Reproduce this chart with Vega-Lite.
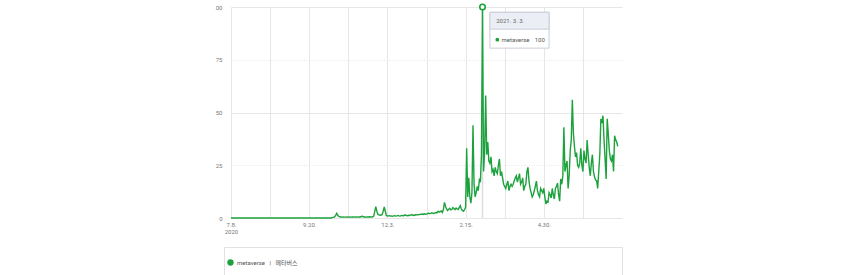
{
  "$schema": "https://vega.github.io/schema/vega-lite/v6.json",
  "autosize": {"type": "pad"},
  "padding": {"left": 215, "top": 1, "right": 0, "bottom": 0},
  "background": "white",
  "config": {
    "font": "Roboto, 'Noto Sans CJK KR', sans-serif",
    "view": {"stroke": null}
  },
  "spacing": 12,
  "datasets": {
    "tip": [{"k": "tip"}],
    "trend": [
      {"d":"2020-07-08","v":0},{"d":"2020-07-09","v":0},{"d":"2020-07-10","v":0},{"d":"2020-07-11","v":0},{"d":"2020-07-12","v":0},{"d":"2020-07-13","v":0},{"d":"2020-07-14","v":0},{"d":"2020-07-15","v":0},{"d":"2020-07-16","v":0},{"d":"2020-07-17","v":0},{"d":"2020-07-18","v":0},{"d":"2020-07-19","v":0},{"d":"2020-07-20","v":0},{"d":"2020-07-21","v":0},{"d":"2020-07-22","v":0},{"d":"2020-07-23","v":0},{"d":"2020-07-24","v":0},{"d":"2020-07-25","v":0},{"d":"2020-07-26","v":0},{"d":"2020-07-27","v":0},{"d":"2020-07-28","v":0},{"d":"2020-07-29","v":0},{"d":"2020-07-30","v":0},{"d":"2020-07-31","v":0},
      {"d":"2020-08-01","v":0},{"d":"2020-08-02","v":0},{"d":"2020-08-03","v":0},{"d":"2020-08-04","v":0},{"d":"2020-08-05","v":0},{"d":"2020-08-06","v":0},{"d":"2020-08-07","v":0},{"d":"2020-08-08","v":0},{"d":"2020-08-09","v":0},{"d":"2020-08-10","v":0},{"d":"2020-08-11","v":0},{"d":"2020-08-12","v":0},{"d":"2020-08-13","v":0},{"d":"2020-08-14","v":0},{"d":"2020-08-15","v":0},{"d":"2020-08-16","v":0},{"d":"2020-08-17","v":0},{"d":"2020-08-18","v":0},{"d":"2020-08-19","v":0},{"d":"2020-08-20","v":0},{"d":"2020-08-21","v":0},{"d":"2020-08-22","v":0},{"d":"2020-08-23","v":0},{"d":"2020-08-24","v":0},{"d":"2020-08-25","v":0},{"d":"2020-08-26","v":0},{"d":"2020-08-27","v":0},{"d":"2020-08-28","v":0},{"d":"2020-08-29","v":0},{"d":"2020-08-30","v":0},{"d":"2020-08-31","v":0},
      {"d":"2020-09-01","v":0},{"d":"2020-09-02","v":0},{"d":"2020-09-03","v":0},{"d":"2020-09-04","v":0},{"d":"2020-09-05","v":0},{"d":"2020-09-06","v":0},{"d":"2020-09-07","v":0},{"d":"2020-09-08","v":0},{"d":"2020-09-09","v":0},{"d":"2020-09-10","v":0},{"d":"2020-09-11","v":0},{"d":"2020-09-12","v":0},{"d":"2020-09-13","v":0},{"d":"2020-09-14","v":0},{"d":"2020-09-15","v":0},{"d":"2020-09-16","v":0},{"d":"2020-09-17","v":0},{"d":"2020-09-18","v":0},{"d":"2020-09-19","v":0},{"d":"2020-09-20","v":0},{"d":"2020-09-21","v":0},{"d":"2020-09-22","v":0},{"d":"2020-09-23","v":0},{"d":"2020-09-24","v":0},{"d":"2020-09-25","v":0},{"d":"2020-09-26","v":0},{"d":"2020-09-27","v":0},{"d":"2020-09-28","v":0},{"d":"2020-09-29","v":0},{"d":"2020-09-30","v":0},
      {"d":"2020-10-01","v":0},{"d":"2020-10-02","v":0},{"d":"2020-10-03","v":0},{"d":"2020-10-04","v":0},{"d":"2020-10-05","v":0},{"d":"2020-10-06","v":0},{"d":"2020-10-07","v":0},{"d":"2020-10-08","v":0},{"d":"2020-10-09","v":0},{"d":"2020-10-10","v":0},{"d":"2020-10-11","v":0},{"d":"2020-10-12","v":0.3},{"d":"2020-10-13","v":0.3},{"d":"2020-10-14","v":0.5},{"d":"2020-10-15","v":1.2},{"d":"2020-10-16","v":2.2},{"d":"2020-10-17","v":1.3},{"d":"2020-10-18","v":0.8},{"d":"2020-10-19","v":0.6},{"d":"2020-10-20","v":0.5},{"d":"2020-10-21","v":0.4},{"d":"2020-10-22","v":0.5},{"d":"2020-10-23","v":0.4},{"d":"2020-10-24","v":0.4},{"d":"2020-10-25","v":0.5},{"d":"2020-10-26","v":0.4},{"d":"2020-10-27","v":0.5},{"d":"2020-10-28","v":0.4},{"d":"2020-10-29","v":0.5},{"d":"2020-10-30","v":0.4},{"d":"2020-10-31","v":0.5},
      {"d":"2020-11-01","v":0.5},{"d":"2020-11-02","v":0.4},{"d":"2020-11-03","v":0.5},{"d":"2020-11-04","v":0.5},{"d":"2020-11-05","v":0.4},{"d":"2020-11-06","v":0.5},{"d":"2020-11-07","v":0.5},{"d":"2020-11-08","v":0.6},{"d":"2020-11-09","v":0.9},{"d":"2020-11-10","v":0.6},{"d":"2020-11-11","v":0.5},{"d":"2020-11-12","v":0.5},{"d":"2020-11-13","v":0.4},{"d":"2020-11-14","v":0.5},{"d":"2020-11-15","v":0.5},{"d":"2020-11-16","v":0.6},{"d":"2020-11-17","v":0.5},{"d":"2020-11-18","v":0.5},{"d":"2020-11-19","v":0.6},{"d":"2020-11-20","v":0.8},{"d":"2020-11-21","v":3},{"d":"2020-11-22","v":5.4},{"d":"2020-11-23","v":3.2},{"d":"2020-11-24","v":1.8},{"d":"2020-11-25","v":1.5},{"d":"2020-11-26","v":1.3},{"d":"2020-11-27","v":1.4},{"d":"2020-11-28","v":1.6},{"d":"2020-11-29","v":3.2},{"d":"2020-11-30","v":5.2},
      {"d":"2020-12-01","v":3.2},{"d":"2020-12-02","v":1.2},{"d":"2020-12-03","v":0.9},{"d":"2020-12-04","v":1.0},{"d":"2020-12-05","v":1.1},{"d":"2020-12-06","v":0.9},{"d":"2020-12-07","v":1.0},{"d":"2020-12-08","v":0.8},{"d":"2020-12-09","v":1.0},{"d":"2020-12-10","v":1.1},{"d":"2020-12-11","v":0.9},{"d":"2020-12-12","v":1.0},{"d":"2020-12-13","v":1.2},{"d":"2020-12-14","v":1.0},{"d":"2020-12-15","v":0.9},{"d":"2020-12-16","v":1.1},{"d":"2020-12-17","v":1.2},{"d":"2020-12-18","v":1.0},{"d":"2020-12-19","v":1.3},{"d":"2020-12-20","v":1.4},{"d":"2020-12-21","v":1.2},{"d":"2020-12-22","v":1.1},{"d":"2020-12-23","v":1.3},{"d":"2020-12-24","v":1.2},{"d":"2020-12-25","v":1.4},{"d":"2020-12-26","v":1.6},{"d":"2020-12-27","v":1.3},{"d":"2020-12-28","v":1.2},{"d":"2020-12-29","v":1.5},{"d":"2020-12-30","v":1.4},{"d":"2020-12-31","v":1.6},
      {"d":"2021-01-01","v":1.5},{"d":"2021-01-02","v":1.7},{"d":"2021-01-03","v":1.6},{"d":"2021-01-04","v":1.8},{"d":"2021-01-05","v":1.9},{"d":"2021-01-06","v":1.7},{"d":"2021-01-07","v":2.0},{"d":"2021-01-08","v":1.8},{"d":"2021-01-09","v":1.9},{"d":"2021-01-10","v":2.1},{"d":"2021-01-11","v":2.3},{"d":"2021-01-12","v":2.0},{"d":"2021-01-13","v":2.2},{"d":"2021-01-14","v":2.5},{"d":"2021-01-15","v":2.3},{"d":"2021-01-16","v":2.1},{"d":"2021-01-17","v":2.4},{"d":"2021-01-18","v":2.6},{"d":"2021-01-19","v":2.5},{"d":"2021-01-20","v":3.2},{"d":"2021-01-21","v":2.8},{"d":"2021-01-22","v":3.0},{"d":"2021-01-23","v":3.3},{"d":"2021-01-24","v":2.6},{"d":"2021-01-25","v":4.0},{"d":"2021-01-26","v":7.4},{"d":"2021-01-27","v":5.5},{"d":"2021-01-28","v":4.3},{"d":"2021-01-29","v":3.5},{"d":"2021-01-30","v":4.2},{"d":"2021-01-31","v":4.6},
      {"d":"2021-02-01","v":3.8},{"d":"2021-02-02","v":4.0},{"d":"2021-02-03","v":4.9},{"d":"2021-02-04","v":4.5},{"d":"2021-02-05","v":4.0},{"d":"2021-02-06","v":4.7},{"d":"2021-02-07","v":4.3},{"d":"2021-02-08","v":4.0},{"d":"2021-02-09","v":5.0},{"d":"2021-02-10","v":5.8},{"d":"2021-02-11","v":4.2},{"d":"2021-02-12","v":3.6},{"d":"2021-02-13","v":3.2},{"d":"2021-02-14","v":4.0},{"d":"2021-02-15","v":5.0},{"d":"2021-02-16","v":33},{"d":"2021-02-17","v":10},{"d":"2021-02-18","v":19},{"d":"2021-02-19","v":10},{"d":"2021-02-20","v":7},{"d":"2021-02-21","v":12},{"d":"2021-02-22","v":44},{"d":"2021-02-23","v":16},{"d":"2021-02-24","v":10},{"d":"2021-02-25","v":12},{"d":"2021-02-26","v":15},{"d":"2021-02-27","v":13},{"d":"2021-02-28","v":18},
      {"d":"2021-03-01","v":17},{"d":"2021-03-02","v":30},{"d":"2021-03-03","v":100},{"d":"2021-03-04","v":22},{"d":"2021-03-05","v":31},{"d":"2021-03-06","v":58},{"d":"2021-03-07","v":30},{"d":"2021-03-08","v":36},{"d":"2021-03-09","v":27},{"d":"2021-03-10","v":26},{"d":"2021-03-11","v":29},{"d":"2021-03-12","v":22},{"d":"2021-03-13","v":23},{"d":"2021-03-14","v":20},{"d":"2021-03-15","v":24},{"d":"2021-03-16","v":22},{"d":"2021-03-17","v":21},{"d":"2021-03-18","v":25},{"d":"2021-03-19","v":28},{"d":"2021-03-20","v":20},{"d":"2021-03-21","v":22},{"d":"2021-03-22","v":19},{"d":"2021-03-23","v":16},{"d":"2021-03-24","v":15},{"d":"2021-03-25","v":14},{"d":"2021-03-26","v":16},{"d":"2021-03-27","v":17.5},{"d":"2021-03-28","v":13},{"d":"2021-03-29","v":15},{"d":"2021-03-30","v":16},{"d":"2021-03-31","v":15},
      {"d":"2021-04-01","v":16},{"d":"2021-04-02","v":17.5},{"d":"2021-04-03","v":19},{"d":"2021-04-04","v":20},{"d":"2021-04-05","v":17},{"d":"2021-04-06","v":19},{"d":"2021-04-07","v":21},{"d":"2021-04-08","v":16},{"d":"2021-04-09","v":17},{"d":"2021-04-10","v":19},{"d":"2021-04-11","v":13},{"d":"2021-04-12","v":15},{"d":"2021-04-13","v":16},{"d":"2021-04-14","v":22},{"d":"2021-04-15","v":24},{"d":"2021-04-16","v":17.5},{"d":"2021-04-17","v":14},{"d":"2021-04-18","v":12},{"d":"2021-04-19","v":10},{"d":"2021-04-20","v":11},{"d":"2021-04-21","v":13},{"d":"2021-04-22","v":15},{"d":"2021-04-23","v":17.5},{"d":"2021-04-24","v":13},{"d":"2021-04-25","v":11},{"d":"2021-04-26","v":10},{"d":"2021-04-27","v":14},{"d":"2021-04-28","v":13},{"d":"2021-04-29","v":12},{"d":"2021-04-30","v":14},
      {"d":"2021-05-01","v":10},{"d":"2021-05-02","v":6.6},{"d":"2021-05-03","v":8},{"d":"2021-05-04","v":7.6},{"d":"2021-05-05","v":12},{"d":"2021-05-06","v":11},{"d":"2021-05-07","v":9.5},{"d":"2021-05-08","v":14},{"d":"2021-05-09","v":11},{"d":"2021-05-10","v":9},{"d":"2021-05-11","v":14},{"d":"2021-05-12","v":15},{"d":"2021-05-13","v":16.5},{"d":"2021-05-14","v":11},{"d":"2021-05-15","v":8},{"d":"2021-05-16","v":18.5},{"d":"2021-05-17","v":16},{"d":"2021-05-18","v":20},{"d":"2021-05-19","v":43},{"d":"2021-05-20","v":22},{"d":"2021-05-21","v":25},{"d":"2021-05-22","v":27},{"d":"2021-05-23","v":14},{"d":"2021-05-24","v":20},{"d":"2021-05-25","v":32},{"d":"2021-05-26","v":37},{"d":"2021-05-27","v":56},{"d":"2021-05-28","v":40},{"d":"2021-05-29","v":34},{"d":"2021-05-30","v":29},{"d":"2021-05-31","v":31},
      {"d":"2021-06-01","v":25},{"d":"2021-06-02","v":24},{"d":"2021-06-03","v":26},{"d":"2021-06-04","v":33},{"d":"2021-06-05","v":25},{"d":"2021-06-06","v":22},{"d":"2021-06-07","v":32},{"d":"2021-06-08","v":28},{"d":"2021-06-09","v":26},{"d":"2021-06-10","v":37},{"d":"2021-06-11","v":30},{"d":"2021-06-12","v":24},{"d":"2021-06-13","v":20},{"d":"2021-06-14","v":26},{"d":"2021-06-15","v":30},{"d":"2021-06-16","v":22},{"d":"2021-06-17","v":19.5},{"d":"2021-06-18","v":18},{"d":"2021-06-19","v":17.7},{"d":"2021-06-20","v":14},{"d":"2021-06-21","v":22},{"d":"2021-06-22","v":30},{"d":"2021-06-23","v":47},{"d":"2021-06-24","v":45},{"d":"2021-06-25","v":48.5},{"d":"2021-06-26","v":37},{"d":"2021-06-27","v":28},{"d":"2021-06-28","v":18.5},{"d":"2021-06-29","v":47},{"d":"2021-06-30","v":40},
      {"d":"2021-07-01","v":32},{"d":"2021-07-02","v":28},{"d":"2021-07-03","v":27},{"d":"2021-07-04","v":30},{"d":"2021-07-05","v":22},{"d":"2021-07-06","v":39},{"d":"2021-07-07","v":37},{"d":"2021-07-08","v":36},{"d":"2021-07-09","v":34}
    ]
  },
  "vconcat": [
    {
      "width": 398,
      "height": 211,
      "layer": [
        {
          "data": {"name": "tip"},
          "mark": {"type": "rule", "color": "#d9dce4", "strokeWidth": 1.5},
          "encoding": {
            "x": {"datum": {"year": 2021, "month": 3, "date": 3, "utc": true}, "type": "temporal"},
            "y": {"datum": 0, "type": "quantitative"},
            "y2": {"datum": 100}
          }
        },
        {
          "data": {"name": "trend"},
          "mark": {"type": "line", "strokeWidth": 1.4, "interpolate": "linear"},
          "encoding": {
            "x": {
              "field": "d", "type": "temporal",
              "scale": {"type": "utc", "domain": [{"year": 2020, "month": 7, "date": 8, "utc": true}, {"year": 2021, "month": 7, "date": 13, "utc": true}], "range": [7, 398], "nice": false},
              "axis": {
                "title": null, "domain": false, "ticks": false, "grid": true, "gridColor": "#e6e6e6", "gridWidth": 1,
                "values": [
                  {"year": 2020, "month": 7, "date": 8, "utc": true},
                  {"year": 2020, "month": 8, "date": 14, "utc": true},
                  {"year": 2020, "month": 9, "date": 20, "utc": true},
                  {"year": 2020, "month": 10, "date": 27, "utc": true},
                  {"year": 2020, "month": 12, "date": 3, "utc": true},
                  {"year": 2021, "month": 1, "date": 9, "utc": true},
                  {"year": 2021, "month": 2, "date": 15, "utc": true},
                  {"year": 2021, "month": 3, "date": 24, "utc": true},
                  {"year": 2021, "month": 4, "date": 30, "utc": true},
                  {"year": 2021, "month": 6, "date": 6, "utc": true}
                ],
                "labelExpr": "indexof(['7.8.','9.20.','12.3.','2.15.','4.30.'], utcFormat(datum.value, '%-m.%-d.')) < 0 ? '' : (utcFormat(datum.value, '%-m.%-d.') == '7.8.' ? ['7.8.', '2020'] : utcFormat(datum.value, '%-m.%-d.'))",
                "labelFontSize": 6, "labelColor": "#777", "labelPadding": 3, "labelLineHeight": 7,
                "labelFlush": false, "labelOverlap": false
              }
            },
            "y": {
              "field": "v", "type": "quantitative",
              "scale": {"domain": [0, 100], "nice": false},
              "axis": {
                "title": null, "domain": false, "ticks": false, "grid": true, "gridColor": "#e6e6e6",
                "gridDash": {"condition": {"test": "datum.value == 25 || datum.value == 75", "value": [1, 1.5]}, "value": []},
                "values": [0, 25, 50, 75, 100],
                "labelExpr": "datum.value == 100 ? '00' : datum.label",
                "labelFontSize": 6, "labelColor": "#777", "labelPadding": 2
              }
            },
            "color": {
              "datum": "metaverse",
              "scale": {"range": ["#1ca23c"]},
              "legend": {
                "orient": "none", "legendX": 3, "legendY": 252, "title": null,
                "symbolType": "circle", "symbolSize": 40, "symbolFillColor": "#1ca23c", "symbolStrokeColor": "#1ca23c", "symbolStrokeWidth": 0,
                "labelFontSize": 6, "labelColor": "#555", "labelOffset": 3, "padding": 0,
                "labelExpr": "datum.label + '\u00a0\u00a0\u00a0|\u00a0\u00a0\u00a0메타버스'"
              }
            }
          }
        },
        {
          "data": {"name": "trend"},
          "transform": [{"filter": "datum.v == 100"}],
          "mark": {"type": "point", "filled": true, "fill": "white", "stroke": "#1ca23c", "strokeWidth": 1.6, "size": 30, "opacity": 1},
          "encoding": {
            "x": {"field": "d", "type": "temporal"},
            "y": {"field": "v", "type": "quantitative"}
          }
        },
        {
          "data": {"name": "tip"},
          "mark": {"type": "rect", "fill": "white", "stroke": "#c9cdd8", "strokeWidth": 1},
          "encoding": {
            "x": {"datum": {"year": 2021, "month": 3, "date": 10, "utc": true}, "type": "temporal"},
            "x2": {"datum": {"year": 2021, "month": 5, "date": 5, "utc": true}},
            "y": {"datum": 97.5, "type": "quantitative"},
            "y2": {"datum": 80.5}
          }
        },
        {
          "data": {"name": "tip"},
          "mark": {"type": "rect", "fill": "#eceef6", "stroke": "#c9cdd8", "strokeWidth": 1},
          "encoding": {
            "x": {"datum": {"year": 2021, "month": 3, "date": 10, "utc": true}, "type": "temporal"},
            "x2": {"datum": {"year": 2021, "month": 5, "date": 5, "utc": true}},
            "y": {"datum": 97.5, "type": "quantitative"},
            "y2": {"datum": 89.5}
          }
        },
        {
          "data": {"name": "tip"},
          "mark": {"type": "text", "text": "2021. 3. 3.", "align": "left", "baseline": "middle", "fontSize": 6, "color": "#666"},
          "encoding": {
            "x": {"datum": {"year": 2021, "month": 3, "date": 16, "utc": true}, "type": "temporal"},
            "y": {"datum": 93.4, "type": "quantitative"}
          }
        },
        {
          "data": {"name": "tip"},
          "mark": {"type": "point", "filled": true, "color": "#1ca23c", "size": 14, "opacity": 1},
          "encoding": {
            "x": {"datum": {"year": 2021, "month": 3, "date": 17, "utc": true}, "type": "temporal"},
            "y": {"datum": 84.5, "type": "quantitative"}
          }
        },
        {
          "data": {"name": "tip"},
          "mark": {"type": "text", "text": "metaverse", "align": "left", "baseline": "middle", "fontSize": 6, "color": "#555"},
          "encoding": {
            "x": {"datum": {"year": 2021, "month": 3, "date": 21, "utc": true}, "type": "temporal"},
            "y": {"datum": 84.5, "type": "quantitative"}
          }
        },
        {
          "data": {"name": "tip"},
          "mark": {"type": "text", "text": "100", "align": "right", "baseline": "middle", "fontSize": 6, "color": "#555"},
          "encoding": {
            "x": {"datum": {"year": 2021, "month": 5, "date": 1, "utc": true}, "type": "temporal"},
            "y": {"datum": 84.5, "type": "quantitative"}
          }
        }
      ]
    },
    {
      "width": 398,
      "height": 40,
      "view": {"stroke": "#e2e2e2"},
      "data": {"name": "tip"},
      "mark": {"type": "point", "opacity": 0},
      "encoding": {}
    }
  ]
}
